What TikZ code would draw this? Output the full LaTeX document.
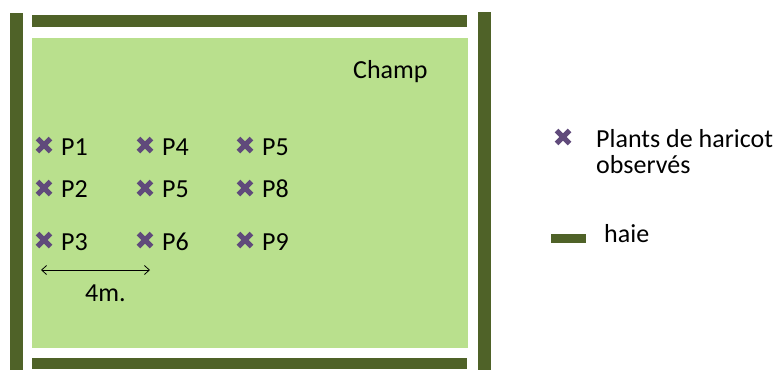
\documentclass[tikz,border=0pt]{standalone}
\usepackage{fontspec}
\setmainfont{Carlito}
\usetikzlibrary{arrows.meta,calc}
\definecolor{hedge}{HTML}{4F6228}
\definecolor{field}{HTML}{B9E08D}
\definecolor{plant}{HTML}{604A7B}
\tikzset{
  hedgebar/.style={fill=hedge, draw=none},
  plantmark/.style={draw=plant, line width=5pt},
  lbl/.style={font=\fontsize{26}{31}\selectfont, inner sep=0pt, anchor=base west, text=black},
}
\newcommand{\plantx}[3]{%
  \coordinate (#1) at (#2,#3);
  \draw[plantmark] ($(#1)+(-6.5,-6.5)$) -- ($(#1)+(6.5,6.5)$);
  \draw[plantmark] ($(#1)+(-6.5,6.5)$) -- ($(#1)+(6.5,-6.5)$);
}
\begin{document}
\begin{tikzpicture}[x=1pt,y=-1pt]
\useasboundingbox (0,0) rectangle (781,370);
% field
\fill[field] (32,38) rectangle (468,348);
% hedges
\fill[hedgebar] (10,13) rectangle (23,370);
\fill[hedgebar] (478,12) rectangle (491,370);
\fill[hedgebar] (32,15) rectangle (467,27);
\fill[hedgebar] (32,358) rectangle (467,369);
% title
\node[lbl] (champ) at (353,78) {Champ};
% plants
\plantx{c1}{44}{145}
\plantx{c2}{44}{188}
\plantx{c3}{44}{240}
\plantx{c4}{145}{145}
\plantx{c5}{145}{188}
\plantx{c6}{145}{240}
\plantx{c7}{245}{145}
\plantx{c8}{245}{188}
\plantx{c9}{245}{240}
\node[lbl] (p1) at (61,155) {P1};
\node[lbl] (p2) at (61,197) {P2};
\node[lbl] (p3) at (61,250) {P3};
\node[lbl] (p4) at (162,155) {P4};
\node[lbl] (p5a) at (162,197) {P5};
\node[lbl] (p6) at (162,250) {P6};
\node[lbl] (p5b) at (262,155) {P5};
\node[lbl] (p8) at (262,197) {P8};
\node[lbl] (p9) at (262,250) {P9};
% scale
\coordinate (sa) at (41,270);
\coordinate (sb) at (150,270);
\draw[line width=0.8pt, {Straight Barb[length=5pt,width=9pt]}-{Straight Barb[length=5pt,width=9pt]}] (sa) -- (sb);
\node[lbl] (dist) at (85,301) {4m.};
% legend
\plantx{lc}{563}{137}
\node[lbl] (leg1) at (596,147) {Plants de haricot};
\node[lbl] (leg1b) at (596,173) {observés};
\fill[hedgebar] (551,234) rectangle (586,243);
\node[lbl] (leg2) at (604,242) {haie};
\end{tikzpicture}
\end{document}
